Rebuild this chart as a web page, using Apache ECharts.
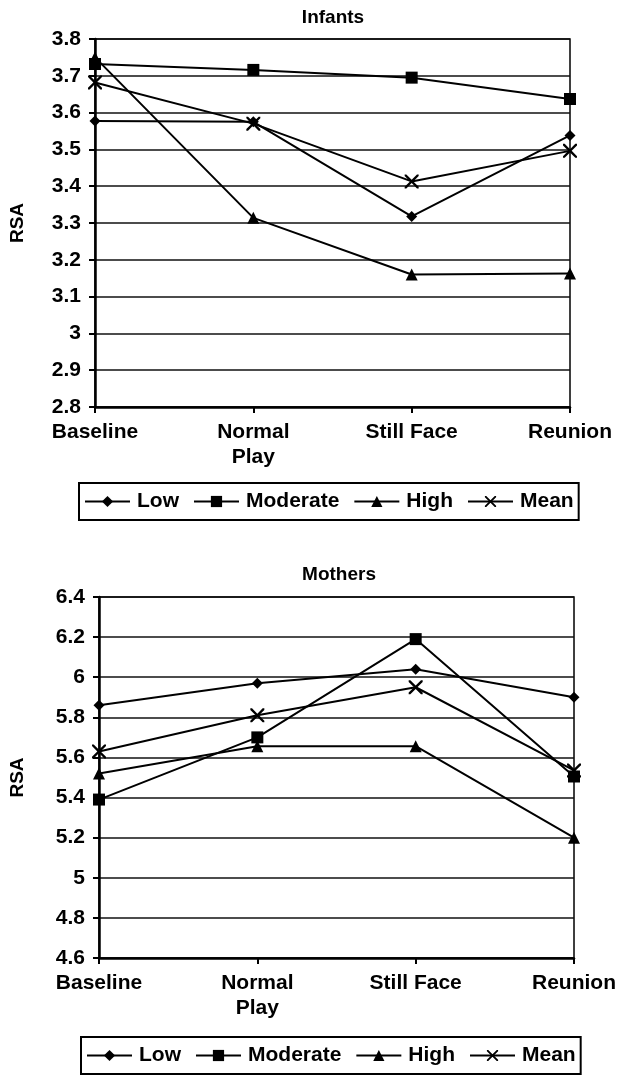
<!DOCTYPE html>
<html><head><meta charset="utf-8">
<script src="https://cdn.jsdelivr.net/npm/echarts@6/dist/echarts.min.js"></script>
<style>html,body{margin:0;padding:0;background:#fff}#c{width:619px;height:1077px}</style>
</head><body><div id="c"></div>
<script>
const categories = ['Baseline', 'Normal\nPlay', 'Still Face', 'Reunion'];
const seriesNames = ['Low', 'Moderate', 'High', 'Mean'];
const infantsLow = [3.577, 3.575, 3.318, 3.538];
const infantsModerate = [3.732, 3.716, 3.695, 3.637];
const infantsHigh = [3.75, 3.314, 3.16, 3.163];
const infantsMean = [3.682, 3.570, 3.413, 3.496];
const mothersLow = [5.86, 5.97, 6.04, 5.90];
const mothersModerate = [5.39, 5.70, 6.19, 5.505];
const mothersHigh = [5.52, 5.656, 5.656, 5.20];
const mothersMean = [5.63, 5.81, 5.95, 5.535];

const FONT = '"Liberation Sans", Arial, sans-serif';
const xPath = 'path://M0,0L1.2,0L5,3.8L8.8,0L10,0L10,1.2L6.2,5L10,8.8L10,10L8.8,10L5,6.2L1.2,10L0,10L0,8.8L3.8,5L0,1.2Z';
const symbols = {Low: 'diamond', Moderate: 'rect', High: 'triangle', Mean: xPath};
const sizes = {Low: 11, Moderate: 12, High: 12, Mean: 14};

function mkSeries(idx, arrs) {
  return seriesNames.map((n, i) => ({
    name: n, type: 'line', xAxisIndex: idx, yAxisIndex: idx,
    data: arrs[i], symbol: symbols[n], symbolSize: sizes[n],
    lineStyle: {color: '#000', width: 2},
    itemStyle: {color: '#000'},
    animation: false, z: 5
  }));
}
function mkX(idx, gridIdx) {
  return {
    type: 'category', gridIndex: gridIdx, data: categories, boundaryGap: false,
    axisLine: {lineStyle: {color: '#000', width: 2.5}},
    axisTick: {show: true, alignWithLabel: true, length: 6, lineStyle: {color: '#000', width: 2}},
    axisLabel: {color: '#000', fontFamily: FONT, fontWeight: 'bold', fontSize: 21, margin: 13, lineHeight: 25, interval: 0},
    splitLine: {show: false}
  };
}
function mkY(gridIdx, min, max, interval, nameGap) {
  return {
    type: 'value', gridIndex: gridIdx, min: min, max: max, interval: interval,
    name: 'RSA', nameLocation: 'middle', nameGap: nameGap, nameRotate: 90,
    nameTextStyle: {color: '#000', fontFamily: FONT, fontWeight: 'bold', fontSize: 19},
    axisLine: {show: true, lineStyle: {color: '#000', width: 2.5}},
    axisTick: {show: true, length: 6, lineStyle: {color: '#000', width: 2}},
    axisLabel: {color: '#000', fontFamily: FONT, fontWeight: 'bold', fontSize: 21, margin: 14,
      formatter: v => String(parseFloat(v.toFixed(2)))},
    splitLine: {show: true, lineStyle: {color: '#111', width: 1.5}}
  };
}
function mkLegend(left, top) {
  return {
    left: left, top: top, orient: 'horizontal',
    data: seriesNames, borderColor: '#000', borderWidth: 2, padding: [8, 5],
    itemWidth: 45, itemHeight: 14, itemGap: 14,
    textStyle: {color: '#000', fontFamily: FONT, fontWeight: 'bold', fontSize: 21, padding: [0, 0, 0, 2]},
    selectedMode: false
  };
}

const option = {
  backgroundColor: '#fff',
  animation: false,
  title: [
    {text: 'Infants', left: 328, top: 3, textAlign: 'center',
     textStyle: {fontFamily: FONT, fontWeight: 'bold', fontSize: 19, color: '#000'}},
    {text: 'Mothers', left: 334, top: 560, textAlign: 'center',
     textStyle: {fontFamily: FONT, fontWeight: 'bold', fontSize: 19, color: '#000'}}
  ],
  grid: [
    {left: 86, right: 49, top: 39, height: 368, show: true, borderColor: '#000', borderWidth: 1.5},
    {left: 90, right: 44, top: 597, height: 361, show: true, borderColor: '#000', borderWidth: 1.5}
  ],
  legend: [mkLegend(79, 483), mkLegend(81, 1037)],
  xAxis: [mkX(0, 0), mkX(1, 1)],
  yAxis: [mkY(0, 2.8, 3.8, 0.1, 68), mkY(1, 4.6, 6.4, 0.2, 72)],
  series: [].concat(
    mkSeries(0, [infantsLow, infantsModerate, infantsHigh, infantsMean]),
    mkSeries(1, [mothersLow, mothersModerate, mothersHigh, mothersMean])
  )
};
const chart = echarts.init(document.getElementById('c'), null, {renderer: 'canvas'});
chart.setOption(option);
</script></body></html>
